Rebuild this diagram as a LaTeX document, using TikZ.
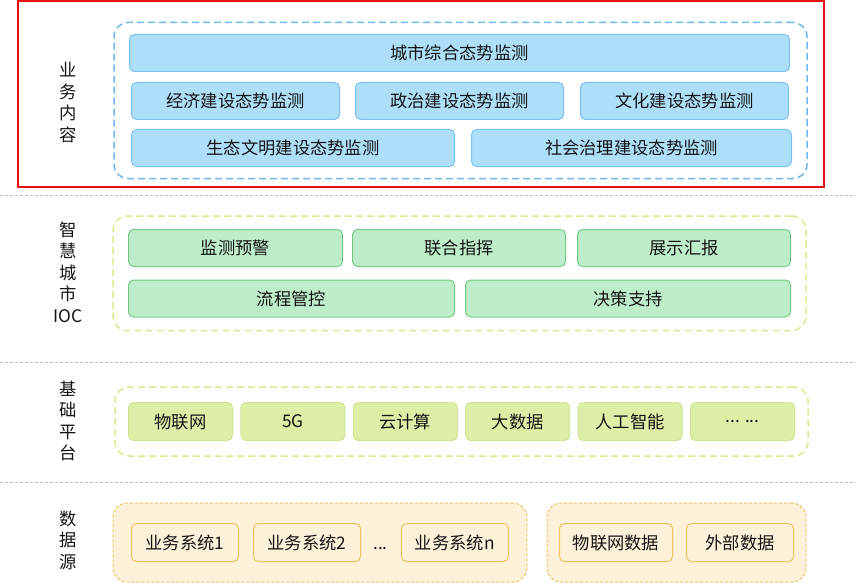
\documentclass[tikz,border=0pt]{standalone}
\usepackage{fontspec}
\setmainfont{Noto Sans CJK SC}
\usepackage{tikz}
\usetikzlibrary{positioning,fit,backgrounds}
\definecolor{bleuFond}{RGB}{174,223,250}
\definecolor{bleuBord}{RGB}{122,192,240}
\definecolor{bleuCadre}{RGB}{110,184,238}
\definecolor{vertFond}{RGB}{190,237,201}
\definecolor{vertBord}{RGB}{118,202,134}
\definecolor{citronCadre}{RGB}{214,236,140}
\definecolor{citronFond}{RGB}{221,238,166}
\definecolor{citronBord}{RGB}{206,230,148}
\definecolor{orangeFond}{RGB}{253,241,217}
\definecolor{orangeBord}{RGB}{238,192,98}
\definecolor{rougeCadre}{RGB}{232,16,16}
\definecolor{texte}{RGB}{20,20,20}
\newcommand\textbox{\fontsize{17.3}{20}\selectfont}

\begin{document}
\begin{tikzpicture}[x=1pt, y=-1pt,
	box/.style={rectangle, rounded corners=5pt, draw, line width=1pt, minimum height=37pt,
		inner sep=0pt, align=center, font=\textbox, text=texte},
	bluebox/.style={box, fill=bleuFond, draw=bleuBord},
	greenbox/.style={box, fill=vertFond, draw=vertBord},
	limebox/.style={box, fill=citronFond, draw=citronBord, minimum width=104pt, minimum height=38pt},
	srcbox/.style={box, fill=orangeFond, draw=orangeBord, minimum height=38pt},
	group/.style={rectangle, rounded corners=14pt, line width=1.5pt, dash pattern=on 7pt off 4pt},
	srcgroup/.style={rectangle, rounded corners=14pt, line width=1pt, dash pattern=on 3pt off 2pt,
		draw=orangeBord, fill=orangeFond},
	sidelbl/.style={align=center, inner sep=0pt, font=\fontsize{17.3}{21.5}\selectfont, text=texte},
	sep/.style={draw=black!25, line width=1pt, dash pattern=on 3pt off 2pt}
	]
	\useasboundingbox (0,0) rectangle (856,583);
	
	% separateurs
	\coordinate (s1l) at (0,195);   \coordinate (s1r) at (856,195);
	\coordinate (s2l) at (0,362);   \coordinate (s2r) at (856,362);
	\coordinate (s3l) at (0,482);   \coordinate (s3r) at (856,482);
	\draw[sep] (s1l) -- (s1r);
	\draw[sep] (s2l) -- (s2r);
	\draw[sep] (s3l) -- (s3r);
	
	% libelles a gauche
	\node[sidelbl] (lblBiz)  at (68,102.5) {业\\务\\内\\容};
	\node[sidelbl] (lblIoc)  at (68,272)   {智\\慧\\城\\市\\IOC};
	\node[sidelbl] (lblBase) at (68,421)   {基\\础\\平\\台};
	\node[sidelbl] (lblData) at (68,540)   {数\\据\\源};
	
	%业务内容
	\node[bluebox, minimum width=660pt] (city) at (459.5,53) {城市综合态势监测};
	\node[bluebox, minimum width=208pt] (econ) at (235.5,101) {经济建设态势监测};
	\node[bluebox, minimum width=208pt, right=15pt of econ] (pol)  {政治建设态势监测};
	\node[bluebox, minimum width=208pt, right=16pt of pol]  (cult) {文化建设态势监测};
	\node[bluebox, minimum width=323pt] (eco) at (293,148) {生态文明建设态势监测};
	\node[bluebox, minimum width=320pt, right=16pt of eco]  (soc)  {社会治理建设态势监测};
	
	% 智慧城市IOC
	\node[greenbox, minimum width=214pt] (warn) at (235.5,248) {监测预警};
	\node[greenbox, minimum width=213pt, right=9pt of warn]  (cmd)  {联合指挥};
	\node[greenbox, minimum width=213pt, right=11pt of cmd]  (show) {展示汇报};
	\node[greenbox, minimum width=326pt] (flow) at (291.5,298.5) {流程管控};
	\node[greenbox, minimum width=325pt, right=10pt of flow] (deci) {决策支持};
	
	% 基础平台
	\node[limebox] (iot) at (180.5,421.5) {物联网};
	\node[limebox, right=7.4pt of iot]   (g5)    {5G};
	\node[limebox, right=7.4pt of g5]    (cloud) {云计算};
	\node[limebox, right=7.4pt of cloud] (big)   {大数据};
	\node[limebox, right=7.4pt of big]   (ai)    {人工智能};
	\node[limebox, right=7.4pt of ai]    (more)  {... ...};
	
	% 数据源
	\node[srcbox, minimum width=107pt] (sys1) at (185,542.5) {业务系统1};
	\node[srcbox, minimum width=107pt, right=14pt of sys1] (sys2) {业务系统2};
	\node[inner sep=0pt, font=\textbox, text=texte, right=12pt of sys2] (dots) {\vphantom{业}...};
	\node[srcbox, minimum width=107pt, right=13pt of dots] (sysn) {业务系统n};
	\node[srcbox, minimum width=113pt] (iotd) at (616,542.5) {物联网数据};
	\node[srcbox, minimum width=107pt, right=13pt of iotd] (ext) {外部数据};
	
	% cadres
	\begin{scope}[on background layer]
		\node[group, draw=bleuCadre, fit=(city)(econ)(cult)(eco)(soc),
			inner xsep=15pt, inner ysep=11.5pt] (grpBiz) {};
		\node[group, draw=citronCadre, fit=(warn)(show)(flow)(deci),
			inner xsep=15pt, inner ysep=13pt] (grpIoc) {};
		\node[group, draw=citronCadre, fit=(iot)(more),
			inner xsep=13pt, inner ysep=15pt] (grpBase) {};
		\node[srcgroup, fit=(sys1)(sysn), inner xsep=18pt, inner ysep=20pt] (grpSys) {};
		\node[srcgroup, fit=(iotd)(ext), inner xsep=12pt, inner ysep=20pt] (grpExt) {};
	\end{scope}
	
	\node[draw=rougeCadre, line width=2pt, inner sep=0pt, minimum width=806pt,
		minimum height=185pt] (focus) at (420.5,94) {};
\end{tikzpicture}
\end{document}
